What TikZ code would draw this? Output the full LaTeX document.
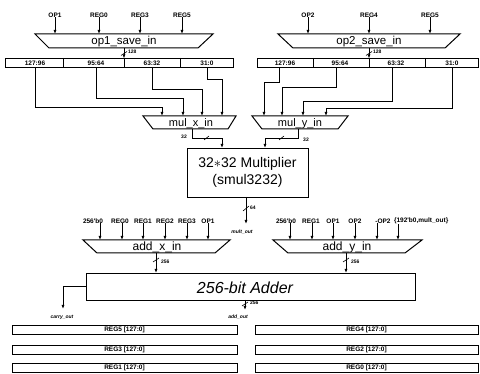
\documentclass[tikz,border=0pt]{standalone}
\usepackage{fontspec}
\setmainfont{Liberation Sans}
\usetikzlibrary{arrows.meta}
\begin{document}
\begin{tikzpicture}[x=1pt,y=-1pt,
  line width=0.9pt,
  every node/.style={inner sep=0pt, outer sep=0pt},
  arr/.style={-{Latex[length=4pt,width=3pt]}},
  sl/.style={font=\fontsize{6.5}{7.5}\selectfont\bfseries},
  tinyl/.style={font=\fontsize{5}{6}\selectfont\bfseries},
  sig/.style={font=\fontsize{5}{6}\selectfont\itshape\bfseries},
  muxname/.style={font=\fontsize{11.5}{13}\selectfont},
  trap/.style={draw, line width=1pt},
  regbar/.style={draw, minimum height=9pt, font=\fontsize{6.5}{7.5}\selectfont\bfseries},
  buslash/.style={line width=0.6pt},
]
\useasboundingbox (0,0) rectangle (480,374);

% ---------------- op1_save_in ----------------
\node[sl] (iOP1) at (55,15) {OP1};
\node[sl] (iR0a) at (99,15) {REG0};
\node[sl] (iR3a) at (140,15) {REG3};
\node[sl] (iR5a) at (182,15) {REG5};
\draw[trap] (35,34) -- (213,34) -- (198,48) -- (49,48) -- cycle;
\node[muxname] (s1) at (124,41.5) {op1\_save\_in};
\coordinate (s1t) at (124,34);
\coordinate (s1b) at (124,48);
\foreach \n in {iOP1,iR0a,iR3a,iR5a} \draw[arr] (\n) -- (\n |- s1t);

\node[regbar, minimum width=228pt] (bar1) at (119,63) {};
\foreach \x in {63,124,180} \draw (\x,58) -- (\x,68);
\node[sl] (f11) at (35,63) {127:96};
\node[sl] (f12) at (96,63) {95:64};
\node[sl] (f13) at (152,63) {63:32};
\node[sl] (f14) at (207,63) {31:0};
\draw[arr] (s1b) -- (s1b |- bar1.north);
\draw[buslash] (121,55.5) -- (127,51.5);
\node[tinyl, anchor=west] (b128a) at (128,52) {128};

% ---------------- op2_save_in ----------------
\node[sl] (iOP2) at (308,15) {OP2};
\node[sl] (iR4a) at (369,15) {REG4};
\node[sl] (iR5b) at (430,15) {REG5};
\draw[trap] (278,34) -- (460,34) -- (445,48) -- (293,48) -- cycle;
\node[muxname] (s2) at (369,41.5) {op2\_save\_in};
\coordinate (s2t) at (369,34);
\coordinate (s2b) at (369,48);
\foreach \n in {iOP2,iR4a,iR5b} \draw[arr] (\n) -- (\n |- s2t);

\node[regbar, minimum width=221pt] (bar2) at (367.5,63) {};
\foreach \x in {313,369,425} \draw (\x,58) -- (\x,68);
\node[sl] (f21) at (285,63) {127:96};
\node[sl] (f22) at (340,63) {95:64};
\node[sl] (f23) at (396,63) {63:32};
\node[sl] (f24) at (452,63) {31:0};
\draw[arr] (s2b) -- (s2b |- bar2.north);
\draw[buslash] (366,55.5) -- (372,51.5);
\node[tinyl, anchor=west] (b128b) at (373,52) {128};

% ---------------- mul_x_in ----------------
\draw[trap] (143,116) -- (236,116) -- (228,129) -- (153,129) -- cycle;
\node[font=\fontsize{11}{12}\selectfont] (mx) at (191,123.5) {mul\_x\_in};
\coordinate (mx1) at (162,116);
\coordinate (mx2) at (183,116);
\coordinate (mx3) at (202,116);
\coordinate (mx4) at (222,116);
\draw[arr] (bar1.south -| 35,0) -- ++(0,40) -| (mx1);
\draw[arr] (bar1.south -| 96,0) -- ++(0,31) -| (mx2);
\draw[arr] (bar1.south -| 152,0) -- ++(0,22) -| (mx3);
\draw[arr] (bar1.south -| 207,0) -- ++(0,12) -| (mx4);

% ---------------- mul_y_in ----------------
\draw[trap] (252,116) -- (348,116) -- (338,129) -- (262,129) -- cycle;
\node[font=\fontsize{11}{12}\selectfont] (my) at (300,123.5) {mul\_y\_in};
\coordinate (my1) at (264,116);
\coordinate (my2) at (282,116);
\coordinate (my3) at (303,116);
\coordinate (my4) at (326,116);
\draw[arr] (bar2.south -| 279,0) -- ++(0,15) -| (my1);
\draw[arr] (bar2.south -| 336,0) -- ++(0,20) -| (my2);
\draw[arr] (bar2.south -| 392,0) -- ++(0,34) -| (my3);
\draw[arr] (bar2.south -| 452,0) -- ++(0,41) -| (my4);

% ---------------- multiplier ----------------
\node[draw, minimum width=121pt, minimum height=49pt, align=center,
      font=\fontsize{14}{17}\selectfont] (mul) at (247.5,172.5)
      {32$*$32 Multiplier\\(smul3232)};
\coordinate (mxo) at (192,129);
\coordinate (myo) at (298,129);
\coordinate (mxi) at (222,148);
\coordinate (myi) at (265,148);
\draw[arr] (mxo) -- ++(0,9) -| (mxi |- mul.north);
\draw[arr] (myo) -- ++(0,9) -| (myi |- mul.north);
\draw[buslash] (204,140) -- (209,136);
\draw[buslash] (279,140) -- (284,136);
\node[tinyl] (w32a) at (184,137) {32};
\node[tinyl] (w32b) at (306,140) {32};

\coordinate (mo) at (246,224);
\draw[arr] (mo |- mul.south) -- (mo);
\draw[buslash] (243,211) -- (249,206);
\node[tinyl, anchor=west] (w64) at (250,208) {64};
\node[sig] (mout) at (242,232) {mult\_out};

% ---------------- add_x_in ----------------
\node[sl] (ax1) at (93,221) {256\textquotesingle b0};
\node[sl] (ax2) at (120,221) {REG0};
\node[sl] (ax3) at (143,221) {REG1};
\node[sl] (ax4) at (165,221) {REG2};
\node[sl] (ax5) at (187,221) {REG3};
\node[sl] (ax6) at (208,221) {OP1};
\foreach \n/\x in {ax1/100,ax2/122,ax3/143,ax4/165,ax5/187,ax6/208}
  \draw[arr] (\n.south -| \x,0) -- (\x,240);
\draw[trap] (83,240) -- (230,240) -- (215,253) -- (97,253) -- cycle;
\node[font=\fontsize{12}{13}\selectfont] (axn) at (157,247) {add\_x\_in};

% ---------------- add_y_in ----------------
\node[sl] (ay1) at (286,221) {256\textquotesingle b0};
\node[sl] (ay2) at (311,221) {REG1};
\node[sl] (ay3) at (333,221) {OP1};
\node[sl] (ay4) at (355,221) {OP2};
\node[sl] (ay5) at (383,221) {-OP2};
\node[sl, anchor=west] (ay6) at (394,221) {\{192\textquotesingle b0,mult\_out\}};
\foreach \n/\x in {ay1/290,ay2/312,ay3/333,ay4/355,ay5/377,ay6/398}
  \draw[arr] (\n.south -| \x,0) -- (\x,240);
\draw[trap] (273,240) -- (422,240) -- (405,253) -- (288,253) -- cycle;
\node[font=\fontsize{12}{13}\selectfont] (ayn) at (347,247) {add\_y\_in};

% ---------------- adder ----------------
\node[draw, minimum width=329pt, minimum height=27pt] (add) at (250.5,286.5) {};
\node[font=\fontsize{16}{18}\selectfont\itshape] (addt) at (245,287.5) {256-bit Adder};
\coordinate (axb) at (156,253);
\coordinate (ayb) at (346,253);
\draw[arr] (axb) -- (axb |- add.north);
\draw[arr] (ayb) -- (ayb |- add.north);
\draw[buslash] (153,262) -- (159,258);
\draw[buslash] (343,262) -- (349,258);
\node[tinyl, anchor=west] (w256a) at (161,262) {256};
\node[tinyl, anchor=west] (w256b) at (351,262) {256};

\coordinate (cy) at (63,309);
\draw[arr] (add.west) -| (cy);
\node[sig] (cyl) at (62,317) {carry\_out};

\coordinate (ao) at (245,310);
\draw[arr] (ao |- add.south) -- (ao);
\draw[buslash] (242,306) -- (248,302);
\node[tinyl, anchor=west] (w256c) at (250,303) {256};
\node[sig] (aol) at (238,317) {add\_out};

% ---------------- register bars ----------------
\node[regbar, minimum width=225pt] (r5) at (124.5,329.5) {REG5 [127:0]};
\node[regbar, minimum width=225pt] (r3) at (124.5,349.5) {REG3 [127:0]};
\node[regbar, minimum width=225pt] (r1) at (124.5,367.5) {REG1 [127:0]};
\node[regbar, minimum width=223pt] (r4) at (366.5,329.5) {REG4 [127:0]};
\node[regbar, minimum width=223pt] (r2) at (366.5,349.5) {REG2 [127:0]};
\node[regbar, minimum width=223pt] (r0) at (366.5,367.5) {REG0 [127:0]};
\end{tikzpicture}
\end{document}
